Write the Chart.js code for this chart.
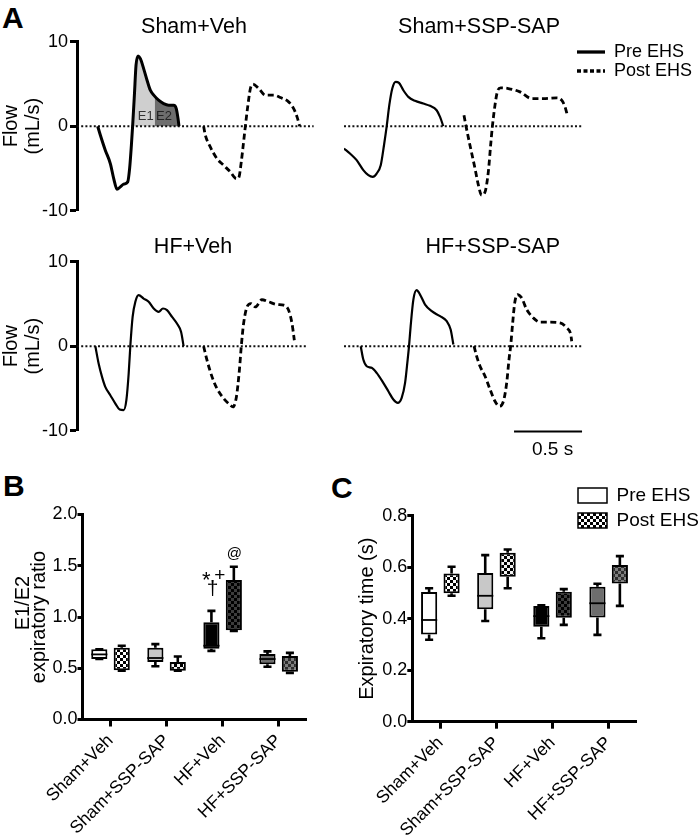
<!DOCTYPE html>
<html>
<head>
<meta charset="utf-8">
<title>Expiratory flow</title>
<script src="https://cdn.jsdelivr.net/npm/chart.js@4.4.1/dist/chart.umd.min.js"></script>
<style>
  body { margin: 0; background: #fff; }
  #fig { position: relative; width: 700px; height: 838px; overflow: hidden; font-family: 'Liberation Sans', Arial, sans-serif; }
  #fig canvas { position: absolute; }
  .panel { position: absolute; font-size: 30px; font-weight: bold; line-height: 30px; }
</style>
</head>
<body>
<div id="fig">
  <div class="panel" style="left:2px;top:3px">A</div>
  <div class="panel" style="left:3px;top:471px">B</div>
  <div class="panel" style="left:331px;top:473px">C</div>
  <canvas id="shamVeh" width="330" height="230" style="left:0;top:0"></canvas>
  <canvas id="shamSsp" width="270" height="230" style="left:330px;top:0"></canvas>
  <canvas id="traceKey" width="124" height="100" style="left:576px;top:42px"></canvas>
  <canvas id="hfVeh" width="330" height="250" style="left:0;top:220px"></canvas>
  <canvas id="hfSsp" width="270" height="250" style="left:330px;top:220px"></canvas>
  <canvas id="ratio" width="330" height="378" style="left:0;top:460px"></canvas>
  <canvas id="expTime" width="370" height="378" style="left:330px;top:460px"></canvas>
  <canvas id="boxKey" width="128" height="130" style="left:572px;top:480px"></canvas>
</div>
<script>
// groups and tick labels
const groups = ['Sham+Veh', 'Sham+SSP-SAP', 'HF+Veh', 'HF+SSP-SAP'];
const flowTicks = [-10, 0, 10];
const ratioTicks = ['0.0', '0.5', '1.0', '1.5', '2.0'];
const timeTicks = ['0.0', '0.2', '0.4', '0.6', '0.8'];

// flow traces, time in s from left edge of each panel, flow in mL/s
const shamVehPreT = [0.152, 0.172, 0.208, 0.245, 0.270, 0.294, 0.319, 0.343, 0.373, 0.387, 0.400, 0.409, 0.422, 0.434, 0.449, 0.466, 0.490, 0.515, 0.539, 0.569, 0.600, 0.637, 0.674, 0.711, 0.730, 0.743, 0.750];
const shamVehPreF = [0, -1.07, -2.84, -4.42, -6.2, -7.46, -7.18, -6.86, -6.59, -5.0, -2.25, 0, 3.67, 7.22, 8.32, 8.0, 6.82, 5.44, 4.26, 3.59, 3.08, 2.68, 2.49, 2.49, 2.09, 0.9, 0];
const shamVehPostT = [0.931, 0.944, 0.980, 1.029, 1.078, 1.127, 1.172, 1.189, 1.208, 1.225, 1.238, 1.255, 1.275, 1.294, 1.336, 1.385, 1.446, 1.495, 1.556, 1.593, 1.618, 1.637];
const shamVehPostF = [0, -1.07, -2.45, -3.83, -4.62, -5.4, -6.2, -6.1, -4.22, -1.85, 0, 2.29, 4.46, 4.97, 4.46, 3.67, 3.67, 3.39, 2.88, 2.09, 1.1, 0];

const shamSspPreT = [0, 0.044, 0.093, 0.142, 0.179, 0.211, 0.240, 0.270, 0.294, 0.314, 0.333, 0.355, 0.380, 0.404, 0.436, 0.473, 0.522, 0.583, 0.632, 0.681, 0.706, 0.730];
const shamSspPreF = [-2.64, -3.23, -4.02, -5.2, -5.8, -6.0, -5.6, -4.62, -2.25, 0, 2.49, 4.46, 5.25, 5.13, 4.26, 3.47, 3.0, 2.68, 2.41, 1.89, 1.1, 0];
const shamSspPostT = [0.882, 0.897, 0.926, 0.963, 0.988, 1.012, 1.037, 1.061, 1.078, 1.091, 1.110, 1.127, 1.152, 1.208, 1.294, 1.380, 1.466, 1.564, 1.600, 1.625, 1.642];
const shamSspPostF = [1.3, 0, -2.25, -5.0, -6.98, -8.17, -7.77, -5.4, -2.25, 0, 2.49, 4.06, 4.54, 4.46, 4.06, 3.27, 3.27, 3.35, 3.08, 2.29, 1.3];

const hfVehPreT = [0.135, 0.159, 0.184, 0.208, 0.245, 0.282, 0.314, 0.343, 0.363, 0.380, 0.392, 0.409, 0.429, 0.453, 0.490, 0.527, 0.564, 0.600, 0.632, 0.662, 0.699, 0.735, 0.765, 0.784];
const hfVehPreF = [0, -2.05, -3.63, -4.81, -5.8, -6.79, -7.5, -7.57, -6.39, -3.23, 0, 3.47, 5.25, 6.04, 5.64, 5.25, 4.46, 4.06, 4.46, 4.26, 3.47, 2.68, 1.7, 0];
const hfVehPostT = [0.931, 0.956, 0.993, 1.029, 1.078, 1.115, 1.147, 1.172, 1.194, 1.208, 1.225, 1.250, 1.279, 1.311, 1.360, 1.409, 1.471, 1.520, 1.556, 1.581, 1.598];
const hfVehPostF = [0, -1.66, -3.63, -5.0, -6.19, -6.79, -7.18, -6.0, -2.84, 0, 2.68, 4.65, 5.05, 4.65, 5.5, 5.25, 4.93, 4.85, 4.26, 2.68, 0.71];

const hfSspPreT = [0.123, 0.142, 0.167, 0.203, 0.240, 0.289, 0.326, 0.363, 0.395, 0.424, 0.449, 0.468, 0.478, 0.490, 0.510, 0.534, 0.559, 0.596, 0.645, 0.706, 0.755, 0.784, 0.804];
const hfSspPreF = [0, -1.58, -2.37, -2.56, -3.16, -4.34, -5.33, -6.31, -6.71, -6.11, -4.34, -1.58, 0, 2.37, 5.52, 6.63, 6.11, 4.93, 4.14, 3.55, 2.96, 1.97, 0.2];
const hfSspPostT = [0.956, 0.975, 1.000, 1.037, 1.074, 1.110, 1.142, 1.172, 1.196, 1.213, 1.225, 1.240, 1.255, 1.275, 1.306, 1.343, 1.392, 1.441, 1.515, 1.588, 1.637, 1.667, 1.674];
const hfSspPostF = [0, -1.18, -2.37, -3.55, -5.13, -6.51, -7.1, -6.51, -4.34, -1.58, 0, 2.76, 5.13, 6.11, 5.72, 4.34, 3.35, 2.84, 2.84, 2.76, 2.17, 1.38, 0.59];

const zeroEnds = [1.74, 1.76, 1.69, 1.76];
const e1Span = [0.409, 0.569];
const e2Span = [0.569, 0.75];
const scaleBarT = [1.25, 1.75];
const scaleBarF = [-10.1, -10.1];

// E1/E2 ratio box plots (min, q1, median, q3, max)
const ratioPreMin = [0.59, 0.52, 0.67, 0.515];
const ratioPreQ1 = [0.59, 0.56, 0.69, 0.54];
const ratioPreMed = [0.635, 0.60, 0.72, 0.59];
const ratioPreQ3 = [0.685, 0.70, 0.95, 0.64];
const ratioPreMax = [0.685, 0.735, 1.06, 0.665];
const ratioPostMin = [0.475, 0.475, 0.865, 0.455];
const ratioPostQ1 = [0.48, 0.475, 0.87, 0.465];
const ratioPostQ3 = [0.70, 0.56, 1.36, 0.62];
const ratioPostMax = [0.72, 0.615, 1.49, 0.65];

// expiratory time box plots
const timePreMin = [0.318, 0.391, 0.324, 0.337];
const timePreQ1 = [0.339, 0.437, 0.369, 0.405];
const timePreMed = [0.395, 0.489, 0.41, 0.46];
const timePreQ3 = [0.504, 0.577, 0.449, 0.524];
const timePreMax = [0.518, 0.647, 0.452, 0.536];
const timePostMin = [0.489, 0.518, 0.376, 0.450];
const timePostQ1 = [0.499, 0.563, 0.404, 0.537];
const timePostQ3 = [0.576, 0.656, 0.505, 0.609];
const timePostMax = [0.602, 0.669, 0.515, 0.643];

const FONT = "'Liberation Sans', Arial, sans-serif";
Chart.defaults.font.family = FONT;
Chart.defaults.color = '#000';
Chart.defaults.animation = false;
Chart.defaults.responsive = false;
Chart.defaults.plugins.legend.display = false;
Chart.defaults.plugins.tooltip.enabled = false;

function pts(t, f) { return t.map((v, i) => ({ x: v, y: f[i] })); }
function between(t, f, span) { return pts(t, f).filter(p => p.x >= span[0] && p.x <= span[1]); }

function checker(a, b) {
  const c = document.createElement('canvas');
  c.width = 6; c.height = 6;
  const g = c.getContext('2d');
  g.fillStyle = b; g.fillRect(0, 0, 6, 6);
  g.fillStyle = a; g.fillRect(0, 0, 3, 3); g.fillRect(3, 3, 3, 3);
  return g.createPattern(c, 'repeat');
}

// text placed at data coordinates
function notes(items) {
  return {
    id: 'notes',
    afterDatasetsDraw(chart) {
      const { ctx, scales } = chart;
      items.forEach(n => {
        ctx.save();
        ctx.font = n.font;
        ctx.fillStyle = n.color || '#000';
        ctx.textAlign = n.align || 'center';
        ctx.textBaseline = 'middle';
        ctx.fillText(n.text, scales.x.getPixelForValue(n.x), scales.y.getPixelForValue(n.y));
        ctx.restore();
      });
    }
  };
}

// whiskers + median on top of floating bars
const boxWhiskers = {
  id: 'boxWhiskers',
  afterDatasetsDraw(chart) {
    const { ctx } = chart;
    const y = chart.scales.y;
    chart.data.datasets.forEach((ds, i) => {
      chart.getDatasetMeta(i).data.forEach((bar, j) => {
        const half = bar.width / 2;
        const top = y.getPixelForValue(ds.data[j][1]);
        const bottom = y.getPixelForValue(ds.data[j][0]);
        const hi = y.getPixelForValue(ds.hi[j]);
        const lo = y.getPixelForValue(ds.lo[j]);
        ctx.save();
        ctx.strokeStyle = '#000';
        ctx.lineWidth = 2.6;
        ctx.beginPath();
        ctx.moveTo(bar.x, top); ctx.lineTo(bar.x, hi);
        ctx.moveTo(bar.x - half / 2, hi); ctx.lineTo(bar.x + half / 2, hi);
        ctx.moveTo(bar.x, bottom); ctx.lineTo(bar.x, lo);
        ctx.moveTo(bar.x - half / 2, lo); ctx.lineTo(bar.x + half / 2, lo);
        ctx.stroke();
        if (ds.mid) {
          const m = y.getPixelForValue(ds.mid[j]);
          ctx.lineWidth = 1.8;
          ctx.beginPath();
          ctx.moveTo(bar.x - half, m); ctx.lineTo(bar.x + half, m);
          ctx.stroke();
        }
        ctx.restore();
      });
    });
  }
};

function traceChart(id, c) {
  const datasets = [
    { data: pts(c.preT, c.preF), borderColor: '#000', borderWidth: c.preWidth, cubicInterpolationMode: 'monotone', pointRadius: 0 },
    { data: pts(c.postT, c.postF), borderColor: '#000', borderWidth: 2.8, borderDash: [6, 3.5], cubicInterpolationMode: 'monotone', pointRadius: 0 },
    { data: [{ x: 0, y: 0 }, { x: c.zeroEnd, y: 0 }], borderColor: '#111', borderWidth: 2, borderDash: [2, 2.2], pointRadius: 0 }
  ].concat(c.extra || []);

  const y = c.left ? {
    min: -10, max: 10,
    afterBuildTicks: s => { s.ticks = flowTicks.map(v => ({ value: v })); },
    afterFit: s => { s.width = 77; },
    ticks: { font: { size: 18 }, padding: 2, color: '#000', callback: v => String(v) },
    grid: { drawOnChartArea: false, tickLength: 7, tickWidth: 3, color: '#000' },
    border: { width: 3, color: '#000' },
    title: { display: true, text: ['Flow', '(mL/s)'], font: { size: 20, lineHeight: 1.12 }, padding: 0, color: '#000' }
  } : { display: false, min: -10, max: 10 };

  return new Chart(document.getElementById(id), {
    type: 'line',
    data: { datasets },
    options: {
      layout: { padding: c.pad },
      scales: { x: { type: 'linear', display: false, min: 0, max: c.xMax }, y }
    },
    plugins: [notes(c.notes)]
  });
}

const titleFont = '21.5px ' + FONT;

traceChart('shamVeh', {
  preT: shamVehPreT, preF: shamVehPreF, postT: shamVehPostT, postF: shamVehPostF,
  zeroEnd: zeroEnds[0], left: true, xMax: 1.75, preWidth: 3,
  pad: { left: 0, right: 15, top: 41.7, bottom: 19.3 },
  extra: [
    { data: between(shamVehPreT, shamVehPreF, e1Span), fill: 'origin', backgroundColor: '#cfcfcf', borderWidth: 0, cubicInterpolationMode: 'monotone', pointRadius: 0 },
    { data: between(shamVehPreT, shamVehPreF, e2Span), fill: 'origin', backgroundColor: '#6d6d6d', borderWidth: 0, cubicInterpolationMode: 'monotone', pointRadius: 0 }
  ],
  notes: [
    { text: groups[0], x: 0.86, y: 11.7, font: titleFont },
    { text: 'E1', x: 0.505, y: 1.15, font: '13px ' + FONT, color: '#333' },
    { text: 'E2', x: 0.64, y: 1.15, font: '13px ' + FONT, color: '#222' }
  ]
});

traceChart('shamSsp', {
  preT: shamSspPreT, preF: shamSspPreF, postT: shamSspPostT, postF: shamSspPostF,
  zeroEnd: zeroEnds[1], left: false, xMax: 1.757, preWidth: 2.2,
  pad: { left: 14, right: 17, top: 41.7, bottom: 19.3 },
  notes: [{ text: groups[1], x: 1.588, y: 11.7, font: titleFont, align: 'right' }]
});

traceChart('hfVeh', {
  preT: hfVehPreT, preF: hfVehPreF, postT: hfVehPostT, postF: hfVehPostF,
  zeroEnd: zeroEnds[2], left: true, xMax: 1.75, preWidth: 2.2,
  pad: { left: 0, right: 15, top: 41.7, bottom: 39.3 },
  notes: [{ text: groups[2], x: 0.853, y: 11.7, font: titleFont }]
});

traceChart('hfSsp', {
  preT: hfSspPreT, preF: hfSspPreF, postT: hfSspPostT, postF: hfSspPostF,
  zeroEnd: zeroEnds[3], left: false, xMax: 1.757, preWidth: 2.2,
  pad: { left: 14, right: 17, top: 41.7, bottom: 39.3 },
  extra: [{ data: pts(scaleBarT, scaleBarF), borderColor: '#000', borderWidth: 2, pointRadius: 0, clip: false }],
  notes: [
    { text: groups[3], x: 1.588, y: 11.7, font: titleFont, align: 'right' },
    { text: '0.5 s', x: 1.533, y: -12.3, font: '19px ' + FONT }
  ]
});

// legend for the traces
new Chart(document.getElementById('traceKey'), {
  type: 'line',
  data: {
    datasets: [
      { label: 'Pre EHS', data: [], borderColor: '#000', borderWidth: 3.3 },
      { label: 'Post EHS', data: [], borderColor: '#000', borderWidth: 3.3, borderDash: [4, 2.5] }
    ]
  },
  options: {
    scales: { x: { display: false }, y: { display: false } },
    plugins: {
      legend: {
        display: true, position: 'top', align: 'start',
        labels: {
          font: { size: 18 }, color: '#000', padding: 1, usePointStyle: true, pointStyleWidth: 28,
          generateLabels: chart => chart.data.datasets.map((ds, i) => ({
            text: ds.label, strokeStyle: ds.borderColor, fillStyle: ds.borderColor,
            lineWidth: ds.borderWidth, lineDash: ds.borderDash || [], pointStyle: 'line',
            datasetIndex: i, hidden: false, fontColor: '#000'
          }))
        }
      }
    }
  }
});

const preFills = ['#ffffff', '#c8c8c8', '#000000', '#6e6e6e'];
const postFills = [checker('#000', '#fff'), checker('#000', '#f2f2f2'), checker('#000', '#3c3c3c'), checker('#2e2e2e', '#7e7e7e')];

function boxChart(id, c) {
  return new Chart(document.getElementById(id), {
    type: 'bar',
    data: {
      labels: groups,
      datasets: [
        { label: 'Pre EHS', data: c.preQ1.map((q, i) => [q, c.preQ3[i]]), lo: c.preMin, hi: c.preMax, mid: c.preMed,
          backgroundColor: preFills, borderColor: '#000', borderWidth: 2, borderSkipped: false,
          categoryPercentage: 0.8, barPercentage: 0.72 },
        { label: 'Post EHS', data: c.postQ1.map((q, i) => [q, c.postQ3[i]]), lo: c.postMin, hi: c.postMax,
          backgroundColor: postFills, borderColor: '#000', borderWidth: 2, borderSkipped: false,
          categoryPercentage: 0.8, barPercentage: 0.72 }
      ]
    },
    options: {
      layout: { padding: c.pad },
      scales: {
        x: {
          grid: { offset: false, drawOnChartArea: false, tickLength: 7, tickWidth: 3, color: '#000' },
          border: { width: 3, color: '#000' },
          ticks: { font: { size: 17.5 }, minRotation: 45, maxRotation: 45, padding: 4, autoSkip: false, color: '#000' },
          afterFit: s => { s.height = c.axisH; }
        },
        y: {
          min: 0, max: c.yMax,
          ticks: { stepSize: c.step, font: { size: 18 }, padding: 0, color: '#000', callback: (v, i) => c.tickText[i] },
          grid: { drawOnChartArea: false, tickLength: 5, tickWidth: 3, color: '#000' },
          border: { width: 3, color: '#000' },
          title: c.title,
          afterFit: s => { s.width = c.axisW; }
        }
      }
    },
    plugins: [boxWhiskers, notes(c.notes || [])]
  });
}

boxChart('ratio', {
  preMin: ratioPreMin, preQ1: ratioPreQ1, preMed: ratioPreMed, preQ3: ratioPreQ3, preMax: ratioPreMax,
  postMin: ratioPostMin, postQ1: ratioPostQ1, postQ3: ratioPostQ3, postMax: ratioPostMax,
  yMax: 2, step: 0.5, tickText: ratioTicks,
  pad: { left: 0, right: 23.3, top: 54.5, bottom: 0 }, axisW: 82.5, axisH: 118.5,
  title: { display: true, text: ['     E1/E2', 'expiratory ratio'], font: { size: 20, lineHeight: '16px' }, padding: { top: 15.7, bottom: 0 }, color: '#000' },
  notes: [
    { text: '*', x: 1.71, y: 1.353, font: '22px ' + FONT },
    { text: '+', x: 1.95, y: 1.405, font: '19px ' + FONT },
    { text: '\u2020', x: 1.82, y: 1.27, font: '21px ' + FONT },
    { text: '@', x: 2.21, y: 1.617, font: '15px ' + FONT }
  ]
});

boxChart('expTime', {
  preMin: timePreMin, preQ1: timePreQ1, preMed: timePreMed, preQ3: timePreQ3, preMax: timePreMax,
  postMin: timePostMin, postQ1: timePostQ1, postQ3: timePostQ3, postMax: timePostMax,
  yMax: 0.8, step: 0.2, tickText: timeTicks,
  pad: { left: 0, right: 63.3, top: 55.7, bottom: 0 }, axisW: 82.3, axisH: 116.3,
  title: { display: true, text: 'Expiratory time (s)', font: { size: 20 }, padding: { top: 25.5, bottom: 0 }, color: '#000' }
});

// legend for the box plots
new Chart(document.getElementById('boxKey'), {
  type: 'bar',
  data: {
    datasets: [
      { label: 'Pre EHS', data: [], backgroundColor: '#fff', borderColor: '#000', borderWidth: 1.5 },
      { label: 'Post EHS', data: [], backgroundColor: checker('#000', '#fff'), borderColor: '#000', borderWidth: 1.5 }
    ]
  },
  options: {
    scales: { x: { display: false }, y: { display: false } },
    plugins: {
      legend: {
        display: true, position: 'top', align: 'start',
        labels: { font: { size: 19 }, color: '#000', boxWidth: 29, boxHeight: 15, padding: 6 }
      }
    }
  }
});
</script>
</body>
</html>
